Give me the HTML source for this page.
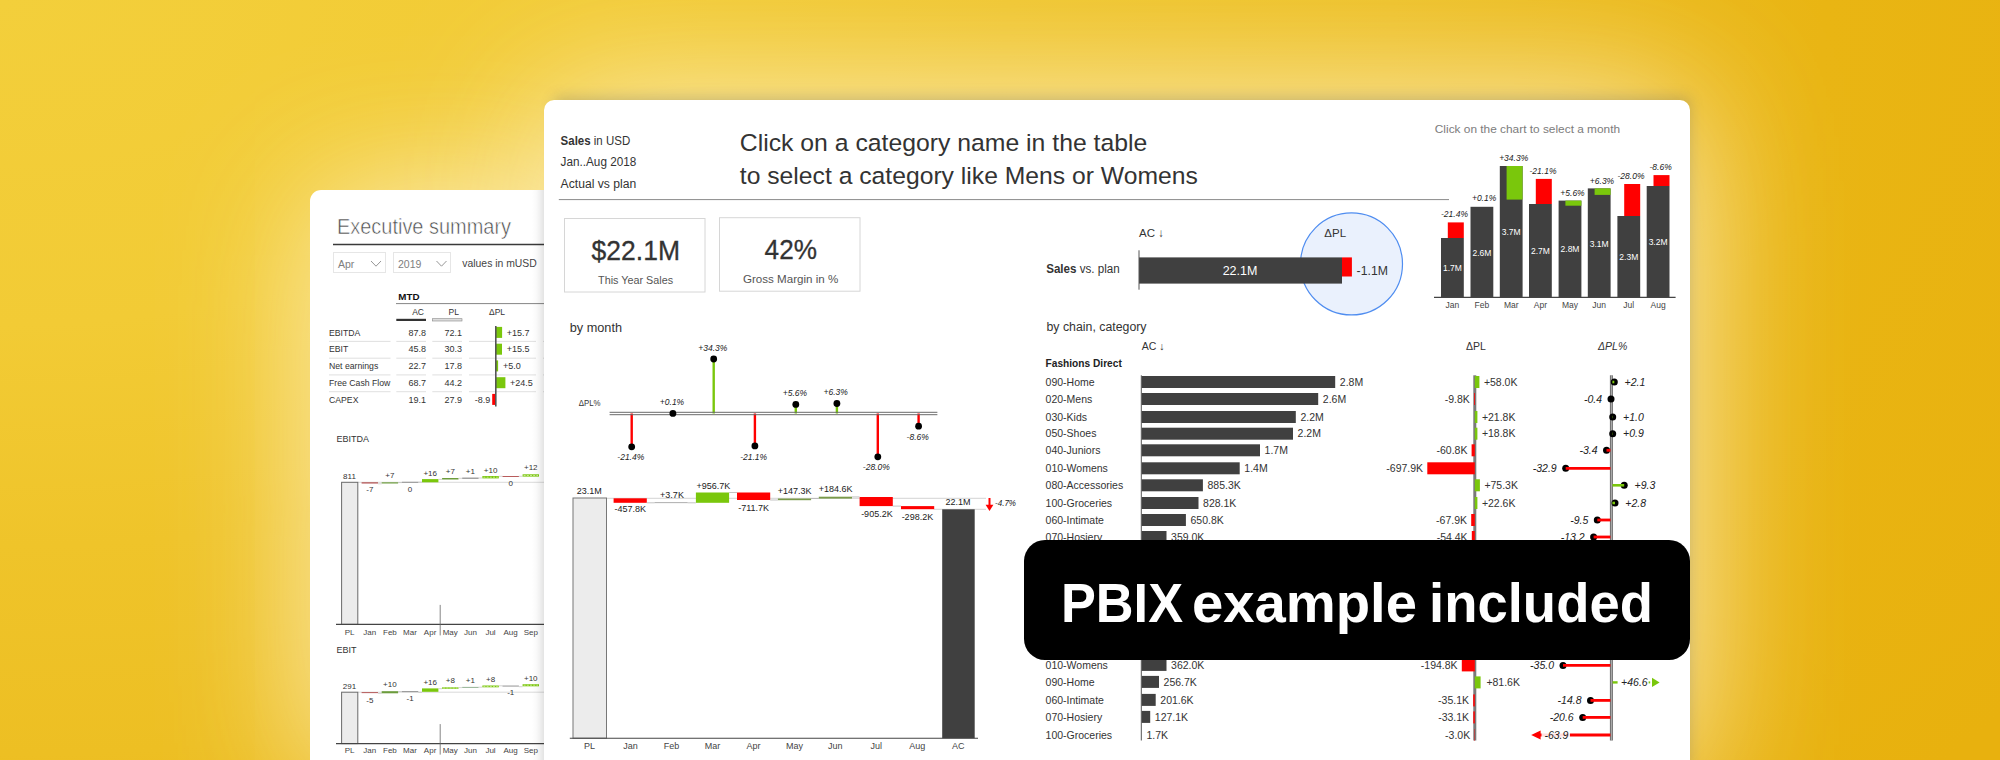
<!DOCTYPE html>
<html lang="en"><head><meta charset="utf-8"><title>PBIX example included</title>
<style>
html,body{margin:0;padding:0;}
body{width:2000px;height:760px;overflow:hidden;position:relative;font-family:"Liberation Sans", "DejaVu Sans", sans-serif;
 background:radial-gradient(ellipse 2400px 1300px at 0 0,#f3cf3b 0%,#f2cb35 25%,#efc42a 42%,#edbf23 58%,#e9b513 76%,#e8b10e 100%);}
.glow{display:none;}
.card{position:absolute;background:#fff;overflow:hidden;}
#g1{position:absolute;left:310px;top:190px;width:260px;height:590px;border-radius:11px 0 0 0;box-shadow:0 0 140px 0 rgba(255,246,215,.85);}
#g2{position:absolute;left:544px;top:100px;width:1146px;height:680px;border-radius:10px 10px 0 0;box-shadow:0 0 150px 4px rgba(255,246,215,.88);}
#c1{left:310px;top:190px;width:260px;height:590px;border-radius:11px 0 0 0;}
#c2{left:544px;top:100px;width:1146px;height:680px;border-radius:10px 10px 0 0;}
#s2{position:absolute;left:544px;top:100px;width:1146px;height:680px;border-radius:10px 10px 0 0;
 box-shadow:5px -8px 13px -5px rgba(110,105,90,.30);}
svg{position:absolute;left:0;top:0;display:block;}
svg text{font-family:"Liberation Sans", "DejaVu Sans", sans-serif;}
#e1{position:absolute;left:532px;top:190px;width:12px;height:570px;background:linear-gradient(90deg,rgba(0,0,0,0) 0%,rgba(0,0,0,.025) 40%,rgba(0,0,0,.10) 100%);}
#banner{position:absolute;left:1024px;top:540px;width:666px;height:120px;background:#000;border-radius:21px;}
</style></head>
<body>
<div class="glow"></div>
<div id="g1"></div>
<div id="g2"></div>
<div class="card" id="c1">
<svg width="260" height="590" viewBox="310 190 260 590">
<text x="337.0" y="234.3" font-size="21.6" fill="#4a4a4a" textLength="174" lengthAdjust="spacingAndGlyphs" stroke="#fff" stroke-width="0.55">Executive summary</text>
<line x1="333.0" y1="244.5" x2="560.0" y2="244.5" stroke="#3a3a3a" stroke-width="1.3"/>
<rect x="333.5" y="252.5" width="52.0" height="20.0" fill="#fff" stroke="#e6e6e6" stroke-width="1"/>
<text x="338.0" y="268.0" font-size="10.5" fill="#7e7e7e">Apr</text>
<polyline points="371,261 376,266.2 381,261" fill="none" stroke="#8a8a8a" stroke-width="0.9"/>
<rect x="393.5" y="252.5" width="57.0" height="20.0" fill="#fff" stroke="#e6e6e6" stroke-width="1"/>
<text x="398.0" y="268.0" font-size="10.5" fill="#7e7e7e">2019</text>
<polyline points="436.5,261 441.5,266.2 446.5,261" fill="none" stroke="#8a8a8a" stroke-width="0.9"/>
<text x="462.3" y="267.0" font-size="11" fill="#444" textLength="74.5" lengthAdjust="spacingAndGlyphs">values in mUSD</text>
<text x="398.3" y="300.0" font-size="9.8" font-weight="bold" fill="#111">MTD</text>
<line x1="396.0" y1="303.6" x2="560.0" y2="303.6" stroke="#666" stroke-width="0.8"/>
<text x="424.0" y="315.0" font-size="8.5" text-anchor="end" fill="#333">AC</text>
<text x="459.0" y="315.0" font-size="8.5" text-anchor="end" fill="#333">PL</text>
<text x="497.0" y="315.0" font-size="8.5" text-anchor="middle" fill="#333">ΔPL</text>
<rect x="396.3" y="318.8" width="29.7" height="2.2" fill="#333"/>
<rect x="432.3" y="318.7" width="29.7" height="2.3" fill="#ddd" stroke="#888" stroke-width="0.6"/>
<text x="329.0" y="335.6" font-size="8.7" fill="#333">EBITDA</text>
<text x="426.0" y="335.6" font-size="9" text-anchor="end" fill="#333">87.8</text>
<text x="462.0" y="335.6" font-size="9" text-anchor="end" fill="#333">72.1</text>
<rect x="496.0" y="326.9" width="6.1" height="11.0" fill="#7ac70c"/>
<text x="506.8" y="335.6" font-size="9" fill="#333">+15.7</text>
<line x1="329.0" y1="341.4" x2="390.5" y2="341.4" stroke="#d8d8d8" stroke-width="0.8"/>
<line x1="396.3" y1="341.4" x2="426.0" y2="341.4" stroke="#d8d8d8" stroke-width="0.8"/>
<line x1="432.3" y1="341.4" x2="462.0" y2="341.4" stroke="#d8d8d8" stroke-width="0.8"/>
<line x1="469.0" y1="341.4" x2="536.0" y2="341.4" stroke="#d8d8d8" stroke-width="0.8"/>
<line x1="543.0" y1="341.4" x2="560.0" y2="341.4" stroke="#d8d8d8" stroke-width="0.8"/>
<text x="329.0" y="352.4" font-size="8.7" fill="#333">EBIT</text>
<text x="426.0" y="352.4" font-size="9" text-anchor="end" fill="#333">45.8</text>
<text x="462.0" y="352.4" font-size="9" text-anchor="end" fill="#333">30.3</text>
<rect x="496.0" y="343.7" width="6.0" height="11.0" fill="#7ac70c"/>
<text x="506.7" y="352.4" font-size="9" fill="#333">+15.5</text>
<line x1="329.0" y1="358.2" x2="390.5" y2="358.2" stroke="#d8d8d8" stroke-width="0.8"/>
<line x1="396.3" y1="358.2" x2="426.0" y2="358.2" stroke="#d8d8d8" stroke-width="0.8"/>
<line x1="432.3" y1="358.2" x2="462.0" y2="358.2" stroke="#d8d8d8" stroke-width="0.8"/>
<line x1="469.0" y1="358.2" x2="536.0" y2="358.2" stroke="#d8d8d8" stroke-width="0.8"/>
<line x1="543.0" y1="358.2" x2="560.0" y2="358.2" stroke="#d8d8d8" stroke-width="0.8"/>
<text x="329.0" y="369.1" font-size="8.7" fill="#333">Net earnings</text>
<text x="426.0" y="369.1" font-size="9" text-anchor="end" fill="#333">22.7</text>
<text x="462.0" y="369.1" font-size="9" text-anchor="end" fill="#333">17.8</text>
<rect x="496.0" y="360.4" width="2.1" height="11.0" fill="#7ac70c"/>
<text x="502.9" y="369.1" font-size="9" fill="#333">+5.0</text>
<line x1="329.0" y1="374.9" x2="390.5" y2="374.9" stroke="#d8d8d8" stroke-width="0.8"/>
<line x1="396.3" y1="374.9" x2="426.0" y2="374.9" stroke="#d8d8d8" stroke-width="0.8"/>
<line x1="432.3" y1="374.9" x2="462.0" y2="374.9" stroke="#d8d8d8" stroke-width="0.8"/>
<line x1="469.0" y1="374.9" x2="536.0" y2="374.9" stroke="#d8d8d8" stroke-width="0.8"/>
<line x1="543.0" y1="374.9" x2="560.0" y2="374.9" stroke="#d8d8d8" stroke-width="0.8"/>
<text x="329.0" y="385.9" font-size="8.7" fill="#333">Free Cash Flow</text>
<text x="426.0" y="385.9" font-size="9" text-anchor="end" fill="#333">68.7</text>
<text x="462.0" y="385.9" font-size="9" text-anchor="end" fill="#333">44.2</text>
<rect x="496.0" y="377.2" width="9.4" height="11.0" fill="#7ac70c"/>
<text x="510.1" y="385.9" font-size="9" fill="#333">+24.5</text>
<line x1="329.0" y1="391.7" x2="390.5" y2="391.7" stroke="#d8d8d8" stroke-width="0.8"/>
<line x1="396.3" y1="391.7" x2="426.0" y2="391.7" stroke="#d8d8d8" stroke-width="0.8"/>
<line x1="432.3" y1="391.7" x2="462.0" y2="391.7" stroke="#d8d8d8" stroke-width="0.8"/>
<line x1="469.0" y1="391.7" x2="536.0" y2="391.7" stroke="#d8d8d8" stroke-width="0.8"/>
<line x1="543.0" y1="391.7" x2="560.0" y2="391.7" stroke="#d8d8d8" stroke-width="0.8"/>
<text x="329.0" y="402.6" font-size="8.7" fill="#333">CAPEX</text>
<text x="426.0" y="402.6" font-size="9" text-anchor="end" fill="#333">19.1</text>
<text x="462.0" y="402.6" font-size="9" text-anchor="end" fill="#333">27.9</text>
<rect x="492.2" y="393.9" width="3.3" height="11.0" fill="#ff0000"/>
<text x="490.2" y="402.6" font-size="9" text-anchor="end" fill="#333">-8.9</text>
<line x1="495.8" y1="326.0" x2="495.8" y2="406.5" stroke="#555" stroke-width="1.6"/>
<text x="336.5" y="442.4" font-size="9" fill="#333">EBITDA</text>
<text x="349.5" y="478.6" font-size="8" text-anchor="middle" fill="#333">811</text>
<line x1="358.0" y1="482.3" x2="560.0" y2="482.3" stroke="#d0d0d0" stroke-width="0.8"/>
<rect x="341.6" y="482.3" width="16.2" height="142.1" fill="#ececec" stroke="#6a6a6a" stroke-width="1"/>
<line x1="336.0" y1="624.4" x2="560.0" y2="624.4" stroke="#444" stroke-width="1.1"/>
<line x1="440.2" y1="604.9" x2="440.2" y2="635.4" stroke="#666" stroke-width="0.8"/>
<text x="349.6" y="634.8" font-size="8" text-anchor="middle" fill="#444">PL</text>
<text x="369.7" y="634.8" font-size="8" text-anchor="middle" fill="#444">Jan</text>
<text x="389.9" y="634.8" font-size="8" text-anchor="middle" fill="#444">Feb</text>
<text x="410.0" y="634.8" font-size="8" text-anchor="middle" fill="#444">Mar</text>
<text x="430.1" y="634.8" font-size="8" text-anchor="middle" fill="#444">Apr</text>
<text x="450.2" y="634.8" font-size="8" text-anchor="middle" fill="#444">May</text>
<text x="470.4" y="634.8" font-size="8" text-anchor="middle" fill="#444">Jun</text>
<text x="490.5" y="634.8" font-size="8" text-anchor="middle" fill="#444">Jul</text>
<text x="510.6" y="634.8" font-size="8" text-anchor="middle" fill="#444">Aug</text>
<text x="530.8" y="634.8" font-size="8" text-anchor="middle" fill="#444">Sep</text>
<rect x="361.6" y="482.3" width="16.4" height="1.2" fill="#b04a4a"/>
<text x="369.8" y="492.4" font-size="8" text-anchor="middle" fill="#333">-7</text>
<line x1="378.0" y1="483.8" x2="381.7" y2="483.8" stroke="#b5b5b5" stroke-width="0.6"/>
<rect x="381.7" y="482.3" width="16.4" height="1.2" fill="#6c9c3c"/>
<text x="389.9" y="478.0" font-size="8" text-anchor="middle" fill="#333">+7</text>
<line x1="398.1" y1="482.6" x2="401.9" y2="482.6" stroke="#b5b5b5" stroke-width="0.6"/>
<rect x="401.9" y="481.8" width="16.4" height="0.9" fill="#888"/>
<text x="410.1" y="491.6" font-size="8" text-anchor="middle" fill="#333">0</text>
<line x1="418.3" y1="482.1" x2="422.0" y2="482.1" stroke="#b5b5b5" stroke-width="0.6"/>
<rect x="422.0" y="479.1" width="16.4" height="3.2" fill="#7ac70c"/>
<text x="430.2" y="475.7" font-size="8" text-anchor="middle" fill="#333">+16</text>
<line x1="438.4" y1="479.4" x2="442.1" y2="479.4" stroke="#b5b5b5" stroke-width="0.6"/>
<rect x="442.1" y="478.0" width="16.4" height="1.5" fill="#6c9c3c"/>
<text x="450.3" y="474.3" font-size="8" text-anchor="middle" fill="#333">+7</text>
<line x1="458.5" y1="478.3" x2="462.2" y2="478.3" stroke="#b5b5b5" stroke-width="0.6"/>
<rect x="462.2" y="477.7" width="16.4" height="0.9" fill="#666"/>
<text x="470.4" y="473.7" font-size="8" text-anchor="middle" fill="#333">+1</text>
<line x1="478.6" y1="478.0" x2="482.4" y2="478.0" stroke="#b5b5b5" stroke-width="0.6"/>
<rect x="482.4" y="476.0" width="16.4" height="2.4" fill="#7ac70c"/>
<line x1="483.4" y1="477.2" x2="497.8" y2="477.2" stroke="#d8efb0" stroke-width="0.8" stroke-dasharray="2 1.2"/>
<text x="490.6" y="472.5" font-size="8" text-anchor="middle" fill="#333">+10</text>
<line x1="498.8" y1="476.3" x2="502.5" y2="476.3" stroke="#b5b5b5" stroke-width="0.6"/>
<rect x="502.5" y="476.0" width="16.4" height="0.9" fill="#b04a4a"/>
<text x="510.7" y="485.5" font-size="8" text-anchor="middle" fill="#333">0</text>
<line x1="518.9" y1="476.3" x2="522.6" y2="476.3" stroke="#b5b5b5" stroke-width="0.6"/>
<rect x="522.6" y="474.3" width="16.4" height="2.3" fill="#7ac70c"/>
<line x1="523.6" y1="475.5" x2="538.0" y2="475.5" stroke="#d8efb0" stroke-width="0.8" stroke-dasharray="2 1.2"/>
<text x="530.8" y="470.3" font-size="8" text-anchor="middle" fill="#333">+12</text>
<text x="336.5" y="652.7" font-size="9" fill="#333">EBIT</text>
<text x="349.5" y="688.5" font-size="8" text-anchor="middle" fill="#333">291</text>
<line x1="358.0" y1="692.2" x2="560.0" y2="692.2" stroke="#d0d0d0" stroke-width="0.8"/>
<rect x="341.6" y="692.2" width="16.2" height="51.4" fill="#ececec" stroke="#6a6a6a" stroke-width="1"/>
<line x1="336.0" y1="743.6" x2="560.0" y2="743.6" stroke="#444" stroke-width="1.1"/>
<line x1="440.2" y1="724.1" x2="440.2" y2="754.6" stroke="#666" stroke-width="0.8"/>
<text x="349.6" y="753.3" font-size="8" text-anchor="middle" fill="#444">PL</text>
<text x="369.7" y="753.3" font-size="8" text-anchor="middle" fill="#444">Jan</text>
<text x="389.9" y="753.3" font-size="8" text-anchor="middle" fill="#444">Feb</text>
<text x="410.0" y="753.3" font-size="8" text-anchor="middle" fill="#444">Mar</text>
<text x="430.1" y="753.3" font-size="8" text-anchor="middle" fill="#444">Apr</text>
<text x="450.2" y="753.3" font-size="8" text-anchor="middle" fill="#444">May</text>
<text x="470.4" y="753.3" font-size="8" text-anchor="middle" fill="#444">Jun</text>
<text x="490.5" y="753.3" font-size="8" text-anchor="middle" fill="#444">Jul</text>
<text x="510.6" y="753.3" font-size="8" text-anchor="middle" fill="#444">Aug</text>
<text x="530.8" y="753.3" font-size="8" text-anchor="middle" fill="#444">Sep</text>
<rect x="361.6" y="692.2" width="16.4" height="0.9" fill="#b04a4a"/>
<text x="369.8" y="702.8" font-size="8" text-anchor="middle" fill="#333">-5</text>
<line x1="378.0" y1="693.4" x2="381.7" y2="693.4" stroke="#b5b5b5" stroke-width="0.6"/>
<rect x="381.7" y="691.2" width="16.4" height="2.1" fill="#6c9c3c"/>
<text x="389.9" y="687.4" font-size="8" text-anchor="middle" fill="#333">+10</text>
<line x1="398.1" y1="691.5" x2="401.9" y2="691.5" stroke="#b5b5b5" stroke-width="0.6"/>
<rect x="401.9" y="691.2" width="16.4" height="0.9" fill="#888"/>
<text x="410.1" y="700.7" font-size="8" text-anchor="middle" fill="#333">-1</text>
<line x1="418.3" y1="692.3" x2="422.0" y2="692.3" stroke="#b5b5b5" stroke-width="0.6"/>
<rect x="422.0" y="688.4" width="16.4" height="3.4" fill="#7ac70c"/>
<text x="430.2" y="684.9" font-size="8" text-anchor="middle" fill="#333">+16</text>
<line x1="438.4" y1="688.7" x2="442.1" y2="688.7" stroke="#b5b5b5" stroke-width="0.6"/>
<rect x="442.1" y="687.3" width="16.4" height="1.5" fill="#7ac70c"/>
<line x1="443.1" y1="688.0" x2="457.5" y2="688.0" stroke="#d8efb0" stroke-width="0.8" stroke-dasharray="2 1.2"/>
<text x="450.3" y="683.2" font-size="8" text-anchor="middle" fill="#333">+8</text>
<line x1="458.5" y1="687.6" x2="462.2" y2="687.6" stroke="#b5b5b5" stroke-width="0.6"/>
<rect x="462.2" y="686.9" width="16.4" height="0.9" fill="#8a8"/>
<text x="470.4" y="683.0" font-size="8" text-anchor="middle" fill="#333">+1</text>
<line x1="478.6" y1="687.2" x2="482.4" y2="687.2" stroke="#b5b5b5" stroke-width="0.6"/>
<rect x="482.4" y="685.5" width="16.4" height="1.8" fill="#7ac70c"/>
<line x1="483.4" y1="686.4" x2="497.8" y2="686.4" stroke="#d8efb0" stroke-width="0.8" stroke-dasharray="2 1.2"/>
<text x="490.6" y="682.1" font-size="8" text-anchor="middle" fill="#333">+8</text>
<line x1="498.8" y1="685.8" x2="502.5" y2="685.8" stroke="#b5b5b5" stroke-width="0.6"/>
<rect x="502.5" y="685.6" width="16.4" height="0.9" fill="#888"/>
<text x="510.7" y="695.2" font-size="8" text-anchor="middle" fill="#333">-1</text>
<line x1="518.9" y1="686.7" x2="522.6" y2="686.7" stroke="#b5b5b5" stroke-width="0.6"/>
<rect x="522.6" y="684.2" width="16.4" height="2.1" fill="#7ac70c"/>
<line x1="523.6" y1="685.2" x2="538.0" y2="685.2" stroke="#d8efb0" stroke-width="0.8" stroke-dasharray="2 1.2"/>
<text x="530.8" y="680.5" font-size="8" text-anchor="middle" fill="#333">+10</text>
</svg>
</div>
<div id="s2"></div>
<div id="e1"></div>
<div class="card" id="c2">
<svg width="1146" height="680" viewBox="544 100 1146 680">
<text x="560.6" y="145" font-size="12" fill="#333" textLength="69.6" lengthAdjust="spacingAndGlyphs"><tspan font-weight="bold">Sales</tspan> in USD</text>
<text x="560.6" y="166.3" font-size="12" fill="#333" textLength="75.7" lengthAdjust="spacingAndGlyphs">Jan..Aug 2018</text>
<text x="560.6" y="187.5" font-size="12" fill="#333" textLength="75.7" lengthAdjust="spacingAndGlyphs">Actual vs plan</text>
<line x1="558.8" y1="199.6" x2="1449.0" y2="199.6" stroke="#8a8a8a" stroke-width="1"/>
<text x="739.8" y="151.4" font-size="24.5" fill="#333" textLength="407.5" lengthAdjust="spacingAndGlyphs">Click on a category name in the table</text>
<text x="739.8" y="184.4" font-size="24.5" fill="#333" textLength="458" lengthAdjust="spacingAndGlyphs">to select a category like Mens or Womens</text>
<rect x="564.5" y="218.5" width="140.5" height="73.5" fill="#fff" stroke="#d6d6d6" stroke-width="1"/>
<text x="635.8" y="259.8" font-size="28" text-anchor="middle" fill="#333" textLength="88.4" lengthAdjust="spacingAndGlyphs" stroke="#333" stroke-width="0.3">$22.1M</text>
<text x="635.6" y="283.7" font-size="11.5" text-anchor="middle" fill="#555" textLength="75" lengthAdjust="spacingAndGlyphs">This Year Sales</text>
<rect x="719.5" y="217.7" width="140.5" height="73.5" fill="#fff" stroke="#d6d6d6" stroke-width="1"/>
<text x="790.8" y="259.3" font-size="28" text-anchor="middle" fill="#333" textLength="52.4" lengthAdjust="spacingAndGlyphs" stroke="#333" stroke-width="0.3">42%</text>
<text x="790.6" y="283.0" font-size="11.5" text-anchor="middle" fill="#555" textLength="95.3" lengthAdjust="spacingAndGlyphs">Gross Margin in %</text>
<text x="569.7" y="331.8" font-size="12.5" fill="#333" textLength="52.4" lengthAdjust="spacingAndGlyphs">by month</text>
<text x="578.8" y="406.2" font-size="8.5" fill="#333" textLength="21.8" lengthAdjust="spacingAndGlyphs">ΔPL%</text>
<line x1="631.7" y1="413.5" x2="631.7" y2="446.8" stroke="#ff0000" stroke-width="2.4"/>
<line x1="713.7" y1="413.5" x2="713.7" y2="359.0" stroke="#7ac70c" stroke-width="2.4"/>
<line x1="754.9" y1="413.5" x2="754.9" y2="445.9" stroke="#ff0000" stroke-width="2.4"/>
<line x1="795.8" y1="413.5" x2="795.8" y2="404.4" stroke="#7ac70c" stroke-width="2.4"/>
<line x1="836.9" y1="413.5" x2="836.9" y2="403.5" stroke="#7ac70c" stroke-width="2.4"/>
<line x1="877.8" y1="413.5" x2="877.8" y2="456.8" stroke="#ff0000" stroke-width="2.4"/>
<line x1="918.6" y1="413.5" x2="918.6" y2="426.2" stroke="#ff0000" stroke-width="2.4"/>
<line x1="609.6" y1="412.3" x2="937.4" y2="412.3" stroke="#6a6a6a" stroke-width="1"/>
<line x1="609.6" y1="414.7" x2="937.4" y2="414.7" stroke="#6a6a6a" stroke-width="1"/>
<circle cx="631.7" cy="446.8" r="3.4" fill="#000"/>
<text x="630.8" y="459.8" font-size="8.5" text-anchor="middle" font-style="italic" fill="#222">-21.4%</text>
<circle cx="672.9" cy="413.4" r="3.4" fill="#000"/>
<text x="672.0" y="404.7" font-size="8.5" text-anchor="middle" font-style="italic" fill="#222">+0.1%</text>
<circle cx="713.7" cy="359.0" r="3.4" fill="#000"/>
<text x="712.8" y="350.9" font-size="8.5" text-anchor="middle" font-style="italic" fill="#222">+34.3%</text>
<circle cx="754.9" cy="445.9" r="3.4" fill="#000"/>
<text x="753.7" y="459.8" font-size="8.5" text-anchor="middle" font-style="italic" fill="#222">-21.1%</text>
<circle cx="795.8" cy="404.4" r="3.4" fill="#000"/>
<text x="794.9" y="395.7" font-size="8.5" text-anchor="middle" font-style="italic" fill="#222">+5.6%</text>
<circle cx="836.9" cy="403.5" r="3.4" fill="#000"/>
<text x="835.7" y="395.0" font-size="8.5" text-anchor="middle" font-style="italic" fill="#222">+6.3%</text>
<circle cx="877.8" cy="456.8" r="3.4" fill="#000"/>
<text x="876.3" y="470.4" font-size="8.5" text-anchor="middle" font-style="italic" fill="#222">-28.0%</text>
<circle cx="918.6" cy="426.2" r="3.4" fill="#000"/>
<text x="917.7" y="439.5" font-size="8.5" text-anchor="middle" font-style="italic" fill="#222">-8.6%</text>
<line x1="606.5" y1="498.3" x2="986.0" y2="498.3" stroke="#cfcfcf" stroke-width="0.9"/>
<line x1="933.8" y1="509.3" x2="986.0" y2="509.3" stroke="#cfcfcf" stroke-width="0.9"/>
<rect x="573.0" y="498.0" width="33.5" height="240.2" fill="#ececec" stroke="#777" stroke-width="1"/>
<rect x="942.2" y="509.3" width="32.5" height="229.0" fill="#404040"/>
<line x1="569.8" y1="738.3" x2="978.0" y2="738.3" stroke="#444" stroke-width="1.1"/>
<rect x="613.6" y="498.3" width="33.2" height="4.5" fill="#ff0000"/>
<text x="630.3" y="511.6" font-size="9" text-anchor="middle" fill="#222">-457.8K</text>
<rect x="654.5" y="502.3" width="33.2" height="0.8" fill="#999"/>
<text x="672.0" y="498.3" font-size="9" text-anchor="middle" fill="#222">+3.7K</text>
<rect x="695.9" y="492.5" width="33.2" height="10.3" fill="#7ac70c"/>
<text x="713.4" y="488.6" font-size="9" text-anchor="middle" fill="#222">+956.7K</text>
<rect x="737.0" y="492.5" width="33.2" height="7.5" fill="#ff0000"/>
<text x="753.7" y="511.3" font-size="9" text-anchor="middle" fill="#222">-711.7K</text>
<rect x="777.9" y="498.5" width="33.2" height="1.7" fill="#7a9a4a"/>
<text x="794.6" y="494.0" font-size="9" text-anchor="middle" fill="#222">+147.3K</text>
<rect x="818.8" y="496.7" width="33.2" height="1.9" fill="#7a9a4a"/>
<text x="835.7" y="492.2" font-size="9" text-anchor="middle" fill="#222">+184.6K</text>
<rect x="859.6" y="497.0" width="33.2" height="9.1" fill="#ff0000"/>
<text x="876.9" y="516.7" font-size="9" text-anchor="middle" fill="#222">-905.2K</text>
<rect x="901.0" y="506.1" width="33.2" height="3.1" fill="#ff0000"/>
<text x="917.4" y="519.7" font-size="9" text-anchor="middle" fill="#222">-298.2K</text>
<line x1="646.8" y1="502.8" x2="654.5" y2="502.8" stroke="#aaa" stroke-width="0.7"/>
<line x1="687.7" y1="502.8" x2="695.9" y2="502.8" stroke="#aaa" stroke-width="0.7"/>
<line x1="729.1" y1="492.5" x2="737.0" y2="492.5" stroke="#aaa" stroke-width="0.7"/>
<line x1="770.2" y1="500.0" x2="777.9" y2="500.0" stroke="#aaa" stroke-width="0.7"/>
<line x1="811.1" y1="498.5" x2="818.8" y2="498.5" stroke="#aaa" stroke-width="0.7"/>
<line x1="852.0" y1="496.9" x2="859.6" y2="496.9" stroke="#aaa" stroke-width="0.7"/>
<line x1="892.8" y1="506.1" x2="901.0" y2="506.1" stroke="#aaa" stroke-width="0.7"/>
<text x="589.3" y="493.7" font-size="9" text-anchor="middle" fill="#222">23.1M</text>
<text x="958.0" y="504.6" font-size="9" text-anchor="middle" fill="#222">22.1M</text>
<text x="589.5" y="748.5" font-size="9" text-anchor="middle" fill="#444">PL</text>
<text x="630.5" y="748.5" font-size="9" text-anchor="middle" fill="#444">Jan</text>
<text x="671.4" y="748.5" font-size="9" text-anchor="middle" fill="#444">Feb</text>
<text x="712.4" y="748.5" font-size="9" text-anchor="middle" fill="#444">Mar</text>
<text x="753.4" y="748.5" font-size="9" text-anchor="middle" fill="#444">Apr</text>
<text x="794.4" y="748.5" font-size="9" text-anchor="middle" fill="#444">May</text>
<text x="835.3" y="748.5" font-size="9" text-anchor="middle" fill="#444">Jun</text>
<text x="876.3" y="748.5" font-size="9" text-anchor="middle" fill="#444">Jul</text>
<text x="917.3" y="748.5" font-size="9" text-anchor="middle" fill="#444">Aug</text>
<text x="958.2" y="748.5" font-size="9" text-anchor="middle" fill="#444">AC</text>
<line x1="989.5" y1="498.0" x2="989.5" y2="506.0" stroke="#ff0000" stroke-width="2"/>
<polygon points="985.6,504.8 993.4,504.8 989.5,511" fill="#ff0000"/>
<text x="995.0" y="505.8" font-size="8.5" font-style="italic" fill="#222" textLength="21" lengthAdjust="spacingAndGlyphs">-4.7%</text>
<circle cx="1351.5" cy="263.9" r="51" fill="#eaf1fd" stroke="#4f8df0" stroke-width="1.2"/>
<text x="1139.0" y="237.0" font-size="11.5" fill="#333">AC ↓</text>
<text x="1324.3" y="237.0" font-size="11.5" fill="#333">ΔPL</text>
<text x="1046.2" y="273.4" font-size="12" fill="#333" textLength="73.5" lengthAdjust="spacingAndGlyphs"><tspan font-weight="bold">Sales</tspan> vs. plan</text>
<rect x="1139.0" y="257.4" width="203.0" height="26.2" fill="#404040"/>
<line x1="1139.0" y1="250.3" x2="1139.0" y2="289.7" stroke="#555" stroke-width="1"/>
<rect x="1342.0" y="257.4" width="9.9" height="19.1" fill="#ff0000"/>
<text x="1240.0" y="274.8" font-size="12.5" text-anchor="middle" fill="#fff">22.1M</text>
<text x="1356.6" y="274.8" font-size="12.5" fill="#333" textLength="31.3" lengthAdjust="spacingAndGlyphs">-1.1M</text>
<text x="1434.8" y="133.0" font-size="11.5" fill="#7c7c7c" textLength="185.3" lengthAdjust="spacingAndGlyphs">Click on the chart to select a month</text>
<rect x="1441.0" y="238.0" width="22.8" height="59.2" fill="#404040"/>
<rect x="1447.8" y="222.4" width="16.0" height="15.6" fill="#ff0000"/>
<text x="1454.5" y="217.3" font-size="8.5" text-anchor="middle" font-style="italic" fill="#222">-21.4%</text>
<text x="1452.4" y="270.7" font-size="8.5" text-anchor="middle" fill="#fff">1.7M</text>
<text x="1452.4" y="307.8" font-size="8.5" text-anchor="middle" fill="#444">Jan</text>
<rect x="1470.5" y="206.8" width="22.8" height="90.4" fill="#404040"/>
<text x="1484.1" y="201.3" font-size="8.5" text-anchor="middle" font-style="italic" fill="#222">+0.1%</text>
<text x="1481.9" y="255.7" font-size="8.5" text-anchor="middle" fill="#fff">2.6M</text>
<text x="1481.9" y="307.8" font-size="8.5" text-anchor="middle" fill="#444">Feb</text>
<rect x="1499.8" y="166.0" width="22.8" height="131.2" fill="#404040"/>
<rect x="1506.6" y="166.0" width="16.0" height="33.6" fill="#7ac70c"/>
<text x="1513.7" y="161.2" font-size="8.5" text-anchor="middle" font-style="italic" fill="#222">+34.3%</text>
<text x="1511.2" y="234.6" font-size="8.5" text-anchor="middle" fill="#fff">3.7M</text>
<text x="1511.2" y="307.8" font-size="8.5" text-anchor="middle" fill="#444">Mar</text>
<rect x="1529.0" y="204.0" width="22.8" height="93.2" fill="#404040"/>
<rect x="1535.8" y="178.9" width="16.0" height="25.1" fill="#ff0000"/>
<text x="1543.0" y="174.1" font-size="8.5" text-anchor="middle" font-style="italic" fill="#222">-21.1%</text>
<text x="1540.4" y="254.0" font-size="8.5" text-anchor="middle" fill="#fff">2.7M</text>
<text x="1540.4" y="307.8" font-size="8.5" text-anchor="middle" fill="#444">Apr</text>
<rect x="1558.6" y="200.6" width="22.8" height="96.6" fill="#404040"/>
<rect x="1565.4" y="200.6" width="16.0" height="5.1" fill="#7ac70c"/>
<text x="1572.5" y="195.9" font-size="8.5" text-anchor="middle" font-style="italic" fill="#222">+5.6%</text>
<text x="1570.0" y="252.3" font-size="8.5" text-anchor="middle" fill="#fff">2.8M</text>
<text x="1570.0" y="307.8" font-size="8.5" text-anchor="middle" fill="#444">May</text>
<rect x="1587.8" y="188.4" width="22.8" height="108.8" fill="#404040"/>
<rect x="1594.6" y="188.4" width="16.0" height="6.5" fill="#7ac70c"/>
<text x="1602.0" y="183.6" font-size="8.5" text-anchor="middle" font-style="italic" fill="#222">+6.3%</text>
<text x="1599.2" y="246.5" font-size="8.5" text-anchor="middle" fill="#fff">3.1M</text>
<text x="1599.2" y="307.8" font-size="8.5" text-anchor="middle" fill="#444">Jun</text>
<rect x="1617.4" y="216.0" width="22.8" height="81.2" fill="#404040"/>
<rect x="1624.2" y="184.0" width="16.0" height="32.0" fill="#ff0000"/>
<text x="1631.0" y="179.2" font-size="8.5" text-anchor="middle" font-style="italic" fill="#222">-28.0%</text>
<text x="1628.8" y="259.8" font-size="8.5" text-anchor="middle" fill="#fff">2.3M</text>
<text x="1628.8" y="307.8" font-size="8.5" text-anchor="middle" fill="#444">Jul</text>
<rect x="1646.7" y="186.0" width="22.8" height="111.2" fill="#404040"/>
<rect x="1653.5" y="175.1" width="16.0" height="10.9" fill="#ff0000"/>
<text x="1660.6" y="170.0" font-size="8.5" text-anchor="middle" font-style="italic" fill="#222">-8.6%</text>
<text x="1658.1" y="244.5" font-size="8.5" text-anchor="middle" fill="#fff">3.2M</text>
<text x="1658.1" y="307.8" font-size="8.5" text-anchor="middle" fill="#444">Aug</text>
<line x1="1434.0" y1="297.4" x2="1675.6" y2="297.4" stroke="#444" stroke-width="1.1"/>
<text x="1046.5" y="330.5" font-size="12" fill="#333" textLength="100" lengthAdjust="spacingAndGlyphs">by chain, category</text>
<text x="1141.7" y="350.1" font-size="10.5" fill="#333">AC ↓</text>
<text x="1466.1" y="350.1" font-size="10.5" fill="#333">ΔPL</text>
<text x="1598.0" y="350.1" font-size="10.5" font-style="italic" fill="#333">ΔPL%</text>
<text x="1045.6" y="366.8" font-size="10.5" font-weight="bold" fill="#222" textLength="76.2" lengthAdjust="spacingAndGlyphs">Fashions Direct</text>
<line x1="1141.3" y1="375.3" x2="1141.3" y2="740.5" stroke="#555" stroke-width="1"/>
<rect x="1473.3" y="375.3" width="3.0" height="365.2" fill="#7a7a7a"/>
<rect x="1609.9" y="375.3" width="3.0" height="365.2" fill="#6e6e6e"/>
<line x1="1611.4" y1="375.3" x2="1611.4" y2="740.5" stroke="#cfcfcf" stroke-width="0.7"/>
<text x="1045.6" y="385.5" font-size="10.5" fill="#333">090-Home</text>
<rect x="1141.7" y="376.0" width="193.5" height="12.0" fill="#404040"/>
<text x="1339.8" y="385.5" font-size="10.5" fill="#333">2.8M</text>
<rect x="1474.8" y="376.0" width="4.6" height="12.0" fill="#7ac70c"/>
<text x="1483.9" y="385.5" font-size="10.5" fill="#333">+58.0K</text>
<circle cx="1614.3" cy="382.0" r="3.5" fill="#000"/>
<line x1="1612.4" y1="382.0" x2="1614.3" y2="382.0" stroke="#7ac70c" stroke-width="2.6"/>
<text x="1624.6" y="385.5" font-size="10.5" font-style="italic" fill="#222">+2.1</text>
<text x="1045.6" y="402.5" font-size="10.5" fill="#333">020-Mens</text>
<rect x="1141.7" y="393.0" width="176.5" height="12.0" fill="#404040"/>
<text x="1322.8" y="402.5" font-size="10.5" fill="#333">2.6M</text>
<rect x="1474.0" y="393.0" width="0.8" height="12.0" fill="#ff0000"/>
<text x="1469.8" y="402.5" font-size="10.5" text-anchor="end" fill="#333">-9.8K</text>
<circle cx="1611.0" cy="399.0" r="3.5" fill="#000"/>
<text x="1602.0" y="402.5" font-size="10.5" text-anchor="end" font-style="italic" fill="#222">-0.4</text>
<text x="1045.6" y="420.5" font-size="10.5" fill="#333">030-Kids</text>
<rect x="1141.7" y="411.0" width="154.1" height="12.0" fill="#404040"/>
<text x="1300.4" y="420.5" font-size="10.5" fill="#333">2.2M</text>
<rect x="1474.8" y="411.0" width="2.6" height="12.0" fill="#7ac70c"/>
<text x="1481.9" y="420.5" font-size="10.5" fill="#333">+21.8K</text>
<circle cx="1612.7" cy="417.0" r="3.5" fill="#000"/>
<line x1="1612.4" y1="417.0" x2="1612.7" y2="417.0" stroke="#7ac70c" stroke-width="2.6"/>
<text x="1623.0" y="420.5" font-size="10.5" font-style="italic" fill="#222">+1.0</text>
<text x="1045.6" y="437.2" font-size="10.5" fill="#333">050-Shoes</text>
<rect x="1141.7" y="427.7" width="151.3" height="12.0" fill="#404040"/>
<text x="1297.6" y="437.2" font-size="10.5" fill="#333">2.2M</text>
<rect x="1474.8" y="427.7" width="2.6" height="12.0" fill="#7ac70c"/>
<text x="1481.9" y="437.2" font-size="10.5" fill="#333">+18.8K</text>
<circle cx="1612.7" cy="433.7" r="3.5" fill="#000"/>
<line x1="1612.4" y1="433.7" x2="1612.7" y2="433.7" stroke="#7ac70c" stroke-width="2.6"/>
<text x="1623.0" y="437.2" font-size="10.5" font-style="italic" fill="#222">+0.9</text>
<text x="1045.6" y="453.8" font-size="10.5" fill="#333">040-Juniors</text>
<rect x="1141.7" y="444.3" width="118.3" height="12.0" fill="#404040"/>
<text x="1264.6" y="453.8" font-size="10.5" fill="#333">1.7M</text>
<rect x="1471.6" y="444.3" width="3.2" height="12.0" fill="#ff0000"/>
<text x="1467.4" y="453.8" font-size="10.5" text-anchor="end" fill="#333">-60.8K</text>
<circle cx="1606.5" cy="450.3" r="3.5" fill="#000"/>
<line x1="1606.5" y1="450.3" x2="1610.4" y2="450.3" stroke="#ff0000" stroke-width="2.8"/>
<text x="1597.5" y="453.8" font-size="10.5" text-anchor="end" font-style="italic" fill="#222">-3.4</text>
<text x="1045.6" y="471.8" font-size="10.5" fill="#333">010-Womens</text>
<rect x="1141.7" y="462.3" width="98.0" height="12.0" fill="#404040"/>
<text x="1244.3" y="471.8" font-size="10.5" fill="#333">1.4M</text>
<rect x="1427.3" y="462.3" width="47.5" height="12.0" fill="#ff0000"/>
<text x="1423.1" y="471.8" font-size="10.5" text-anchor="end" fill="#333">-697.9K</text>
<circle cx="1565.7" cy="468.3" r="3.5" fill="#000"/>
<line x1="1565.7" y1="468.3" x2="1610.4" y2="468.3" stroke="#ff0000" stroke-width="2.8"/>
<text x="1556.7" y="471.8" font-size="10.5" text-anchor="end" font-style="italic" fill="#222">-32.9</text>
<text x="1045.6" y="488.8" font-size="10.5" fill="#333">080-Accessories</text>
<rect x="1141.7" y="479.3" width="61.2" height="12.0" fill="#404040"/>
<text x="1207.5" y="488.8" font-size="10.5" fill="#333">885.3K</text>
<rect x="1474.8" y="479.3" width="5.1" height="12.0" fill="#7ac70c"/>
<text x="1484.4" y="488.8" font-size="10.5" fill="#333">+75.3K</text>
<circle cx="1624.2" cy="485.3" r="3.5" fill="#000"/>
<line x1="1612.4" y1="485.3" x2="1624.2" y2="485.3" stroke="#7ac70c" stroke-width="2.6"/>
<text x="1634.5" y="488.8" font-size="10.5" font-style="italic" fill="#222">+9.3</text>
<text x="1045.6" y="506.5" font-size="10.5" fill="#333">100-Groceries</text>
<rect x="1141.7" y="497.0" width="56.8" height="12.0" fill="#404040"/>
<text x="1203.1" y="506.5" font-size="10.5" fill="#333">828.1K</text>
<rect x="1474.8" y="497.0" width="2.6" height="12.0" fill="#7ac70c"/>
<text x="1481.9" y="506.5" font-size="10.5" fill="#333">+22.6K</text>
<circle cx="1615.0" cy="503.0" r="3.5" fill="#000"/>
<line x1="1612.4" y1="503.0" x2="1615.0" y2="503.0" stroke="#7ac70c" stroke-width="2.6"/>
<text x="1625.3" y="506.5" font-size="10.5" font-style="italic" fill="#222">+2.8</text>
<text x="1045.6" y="523.5" font-size="10.5" fill="#333">060-Intimate</text>
<rect x="1141.7" y="514.0" width="44.2" height="12.0" fill="#404040"/>
<text x="1190.5" y="523.5" font-size="10.5" fill="#333">650.8K</text>
<rect x="1471.2" y="514.0" width="3.6" height="12.0" fill="#ff0000"/>
<text x="1467.0" y="523.5" font-size="10.5" text-anchor="end" fill="#333">-67.9K</text>
<circle cx="1597.3" cy="520.0" r="3.5" fill="#000"/>
<line x1="1597.3" y1="520.0" x2="1610.4" y2="520.0" stroke="#ff0000" stroke-width="2.8"/>
<text x="1588.3" y="523.5" font-size="10.5" text-anchor="end" font-style="italic" fill="#222">-9.5</text>
<text x="1045.6" y="540.5" font-size="10.5" fill="#333">070-Hosiery</text>
<rect x="1141.7" y="531.0" width="24.8" height="12.0" fill="#404040"/>
<text x="1171.1" y="540.5" font-size="10.5" fill="#333">359.0K</text>
<rect x="1471.8" y="531.0" width="3.0" height="12.0" fill="#ff0000"/>
<text x="1467.6" y="540.5" font-size="10.5" text-anchor="end" fill="#333">-54.4K</text>
<circle cx="1593.6" cy="537.0" r="3.5" fill="#000"/>
<line x1="1593.6" y1="537.0" x2="1610.4" y2="537.0" stroke="#ff0000" stroke-width="2.8"/>
<text x="1584.6" y="540.5" font-size="10.5" text-anchor="end" font-style="italic" fill="#222">-13.2</text>
<text x="1045.6" y="669.3" font-size="10.5" fill="#333">010-Womens</text>
<rect x="1141.7" y="658.9" width="24.8" height="12.0" fill="#404040"/>
<text x="1171.1" y="669.3" font-size="10.5" fill="#333">362.0K</text>
<rect x="1461.8" y="659.4" width="13.0" height="12.0" fill="#ff0000"/>
<text x="1457.6" y="669.3" font-size="10.5" text-anchor="end" fill="#333">-194.8K</text>
<circle cx="1563.0" cy="665.4" r="3.5" fill="#000"/>
<line x1="1563.0" y1="665.4" x2="1610.4" y2="665.4" stroke="#ff0000" stroke-width="2.8"/>
<text x="1554.0" y="669.3" font-size="10.5" text-anchor="end" font-style="italic" fill="#222">-35.0</text>
<text x="1045.6" y="686.3" font-size="10.5" fill="#333">090-Home</text>
<rect x="1141.7" y="675.9" width="17.3" height="12.0" fill="#404040"/>
<text x="1163.6" y="686.3" font-size="10.5" fill="#333">256.7K</text>
<rect x="1474.8" y="676.4" width="5.8" height="12.0" fill="#7ac70c"/>
<text x="1486.4" y="686.3" font-size="10.5" fill="#333">+81.6K</text>
<line x1="1612.6" y1="682.4" x2="1617.6" y2="682.4" stroke="#7ac70c" stroke-width="2.4"/>
<line x1="1648.6" y1="682.4" x2="1650.2" y2="682.4" stroke="#7ac70c" stroke-width="2.0"/>
<polygon points="1652,677.8 1659.6,682.4 1652,687.0" fill="#7ac70c"/>
<text x="1634.4" y="686.3" font-size="10.5" text-anchor="middle" font-style="italic" fill="#222">+46.6</text>
<text x="1045.6" y="704.3" font-size="10.5" fill="#333">060-Intimate</text>
<rect x="1141.7" y="693.9" width="14.0" height="12.0" fill="#404040"/>
<text x="1160.3" y="704.3" font-size="10.5" fill="#333">201.6K</text>
<rect x="1473.2" y="694.4" width="1.6" height="12.0" fill="#ff0000"/>
<text x="1469.0" y="704.3" font-size="10.5" text-anchor="end" fill="#333">-35.1K</text>
<circle cx="1590.5" cy="700.4" r="3.5" fill="#000"/>
<line x1="1590.5" y1="700.4" x2="1610.4" y2="700.4" stroke="#ff0000" stroke-width="2.8"/>
<text x="1581.5" y="704.3" font-size="10.5" text-anchor="end" font-style="italic" fill="#222">-14.8</text>
<text x="1045.6" y="721.3" font-size="10.5" fill="#333">070-Hosiery</text>
<rect x="1141.7" y="710.9" width="8.5" height="12.0" fill="#404040"/>
<text x="1154.8" y="721.3" font-size="10.5" fill="#333">127.1K</text>
<rect x="1473.3" y="711.4" width="1.5" height="12.0" fill="#ff0000"/>
<text x="1469.1" y="721.3" font-size="10.5" text-anchor="end" fill="#333">-33.1K</text>
<circle cx="1582.7" cy="717.4" r="3.5" fill="#000"/>
<line x1="1582.7" y1="717.4" x2="1610.4" y2="717.4" stroke="#ff0000" stroke-width="2.8"/>
<text x="1573.7" y="721.3" font-size="10.5" text-anchor="end" font-style="italic" fill="#222">-20.6</text>
<text x="1045.6" y="738.9" font-size="10.5" fill="#333">100-Groceries</text>
<text x="1146.4" y="738.9" font-size="10.5" fill="#333">1.7K</text>
<rect x="1474.4" y="729.0" width="0.4" height="12.0" fill="#ff0000"/>
<text x="1470.2" y="738.9" font-size="10.5" text-anchor="end" fill="#333">-3.0K</text>
<line x1="1539.0" y1="735.0" x2="1610.4" y2="735.0" stroke="#ff0000" stroke-width="2.8"/>
<polygon points="1540.6,730.4 1531.2,735.0 1540.6,739.6" fill="#ff0000"/>
<rect x="1541.5" y="729.5" width="28.5" height="11.0" fill="#fff" fill-opacity="0.88"/>
<text x="1556.4" y="738.9" font-size="10.5" text-anchor="middle" font-style="italic" fill="#222">-63.9</text>
</svg>
</div>
<div id="banner">
<svg width="666" height="120" viewBox="1024 540 666 120">
<g font-size="56" font-weight="bold" fill="#fff"><text x="1061" y="622" textLength="122" lengthAdjust="spacingAndGlyphs">PBIX</text><text x="1192" y="622" textLength="225" lengthAdjust="spacingAndGlyphs">example</text><text x="1429" y="622" textLength="224" lengthAdjust="spacingAndGlyphs">included</text></g>
</svg>
</div>
</body></html>
